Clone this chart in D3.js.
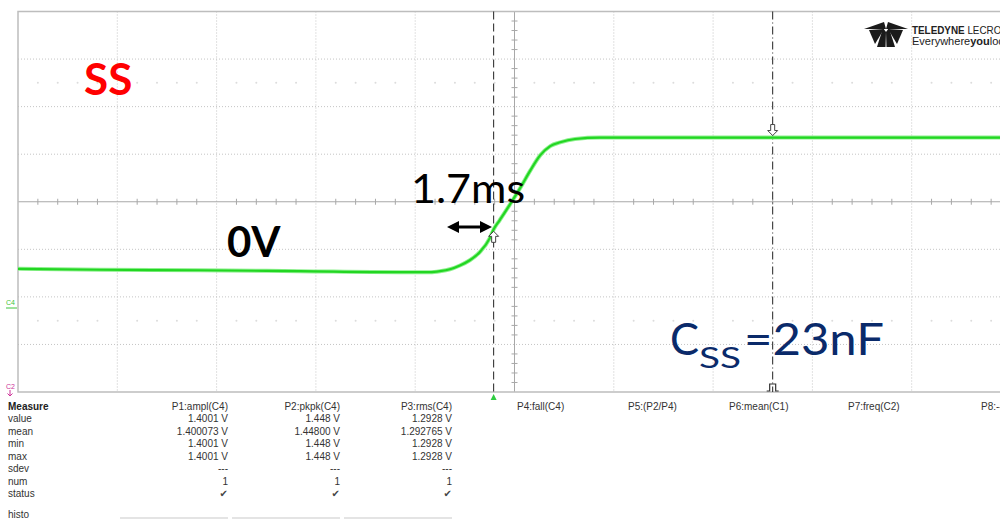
<!DOCTYPE html>
<html>
<head>
<meta charset="utf-8">
<script src="https://cdn.jsdelivr.net/npm/d3@7"></script>
<style>
  body { margin: 0; background: #fff; }
  svg { display: block; }
</style>
</head>
<body>
<script>
// trace C4, time and level in screen divisions
var traceTime  = [-5.0, -4.17, -3.17, -2.16, -1.15, -0.85, -0.75, -0.65, -0.55, -0.45, -0.35, -0.25, -0.21, -0.15, -0.05, 0.055, 0.16, 0.26, 0.36, 0.46, 0.61, 0.86, 1.87, 5.0];
var traceLevel = [-1.41, -1.43, -1.44, -1.46, -1.48, -1.48, -1.46, -1.42, -1.34, -1.23, -1.06, -0.77, -0.58, -0.39, -0.07, 0.28, 0.66, 0.98, 1.17, 1.25, 1.32, 1.35, 1.35, 1.35];

var cursorA = -0.21, cursorB = 2.6;

var rowNames  = ["value", "mean", "min", "max", "sdev", "num", "status"];
var p1Values  = ["1.4001 V", "1.400073 V", "1.4001 V", "1.4001 V", "---", "1", "\u2714"];
var p2Values  = ["1.448 V", "1.44800 V", "1.448 V", "1.448 V", "---", "1", "\u2714"];
var p3Values  = ["1.2928 V", "1.292765 V", "1.2928 V", "1.2928 V", "---", "1", "\u2714"];
var paramLabels = ["P1:ampl(C4)", "P2:pkpk(C4)", "P3:rms(C4)", "P4:fall(C4)", "P5:(P2/P4)", "P6:mean(C1)", "P7:freq(C2)", "P8:--"];

var W = 1000, H = 519;
var svg = d3.select("body").append("svg").attr("width", W).attr("height", H);

var x = d3.scaleLinear().domain([-5, 5]).range([18, 1011]);
var y = d3.scaleLinear().domain([-4, 4]).range([392, 11.5]);

var grid = svg.append("g");

// dotted grid
grid.selectAll(".vg").data(d3.range(-4, 6).filter(function(d){ return d !== 0; }))
  .enter().append("line")
  .attr("x1", function(d){ return x(d); }).attr("x2", function(d){ return x(d); })
  .attr("y1", y(4)).attr("y2", y(-4))
  .attr("stroke", "#c4c4c4").attr("stroke-dasharray", "1,2");
grid.selectAll(".hg").data([-3, -2, -1, 1, 2, 3])
  .enter().append("line")
  .attr("x1", x(-5)).attr("x2", W)
  .attr("y1", function(d){ return y(d); }).attr("y2", function(d){ return y(d); })
  .attr("stroke", "#c4c4c4").attr("stroke-dasharray", "1,2");

// faint dot rows
[2.5, -2.5].forEach(function(lv){
  grid.selectAll(null).data(d3.range(-49, 50).filter(function(d){ return d % 5 !== 0; }))
    .enter().append("circle")
    .attr("cx", function(d){ return x(d / 5); }).attr("cy", y(lv)).attr("r", 1)
    .attr("fill", "#dcdcdc");
});

// center axes with minor ticks
grid.append("line").attr("x1", x(-5)).attr("x2", W).attr("y1", y(0)).attr("y2", y(0))
  .attr("stroke", "#a8a8a8");
grid.append("line").attr("x1", x(0)).attr("x2", x(0)).attr("y1", y(4)).attr("y2", y(-4))
  .attr("stroke", "#a8a8a8");
grid.selectAll(".tx").data(d3.range(-25, 26).filter(function(d){ return d % 5 !== 0; }))
  .enter().append("line")
  .attr("x1", function(d){ return x(d / 5); }).attr("x2", function(d){ return x(d / 5); })
  .attr("y1", y(0) - 3).attr("y2", y(0) + 3).attr("stroke", "#a8a8a8");
grid.selectAll(".ty").data(d3.range(-20, 21).filter(function(d){ return d % 5 !== 0; }))
  .enter().append("line")
  .attr("y1", function(d){ return y(d / 5); }).attr("y2", function(d){ return y(d / 5); })
  .attr("x1", x(0) - 3).attr("x2", x(0) + 3).attr("stroke", "#a8a8a8");

// frame
grid.append("path")
  .attr("d", "M" + W + "," + y(4) + "H" + x(-5) + "V" + y(-4) + "H" + W)
  .attr("fill", "none").attr("stroke", "#bdbdbd").attr("stroke-width", 1.5);

// cursors
svg.append("line").attr("x1", x(cursorA)).attr("x2", x(cursorA)).attr("y1", y(4)).attr("y2", y(-4))
  .attr("stroke", "#222").attr("stroke-dasharray", "8,4");
svg.append("line").attr("x1", x(cursorB)).attr("x2", x(cursorB)).attr("y1", y(4)).attr("y2", y(-4))
  .attr("stroke", "#222").attr("stroke-dasharray", "8,3,1,3");

// trace
var line = d3.line().x(function(d, i){ return x(traceTime[i]); })
  .y(function(d){ return y(d); }).curve(d3.curveMonotoneX);
svg.append("path").datum(traceLevel).attr("d", line)
  .attr("fill", "none").attr("stroke", "#8ef08e").attr("stroke-width", 4);
svg.append("path").datum(traceLevel).attr("d", line)
  .attr("fill", "none").attr("stroke", "#22d622").attr("stroke-width", 2.2);

// cursor markers
function arrowMark(cx, cy, up) {
  var s = up ? -1 : 1;
  var p = [[cx, cy], [cx - 5, cy - s * 5], [cx - 2, cy - s * 5], [cx - 2, cy - s * 11], [cx + 2, cy - s * 11], [cx + 2, cy - s * 5], [cx + 5, cy - s * 5]];
  svg.append("polygon").attr("points", p.map(function(q){ return q.join(","); }).join(" "))
    .attr("fill", "#fff").attr("stroke", "#444").attr("stroke-width", 1);
}
arrowMark(x(cursorA), y(-0.58) + 2, true);
arrowMark(x(cursorB), y(1.35) - 2, false);
svg.append("path")
  .attr("d", "M" + (x(cursorB) - 6) + "," + (y(-4) - 1) + "h3v-7h6v7h3")
  .attr("fill", "none").attr("stroke", "#333").attr("stroke-width", 1.2);

// trigger marker
svg.append("polygon")
  .attr("points", [[x(cursorA), 394], [x(cursorA) - 3, 400], [x(cursorA) + 3, 400]].map(function(q){ return q.join(","); }).join(" "))
  .attr("fill", "#2ecc40");

// channel markers on the left
svg.append("text").attr("x", 6).attr("y", 305).text("C4")
  .attr("font-family", "Liberation Sans, Arial").attr("font-size", 7).attr("fill", "#3cc43c");
svg.append("line").attr("x1", 6).attr("x2", 17).attr("y1", 308).attr("y2", 308).attr("stroke", "#3cc43c");
svg.append("text").attr("x", 6).attr("y", 389).text("C2")
  .attr("font-family", "Liberation Sans, Arial").attr("font-size", 7).attr("fill", "#cc3399");
svg.append("path").attr("d", "M10,390v6m-2.5,-2.5l2.5,2.5l2.5,-2.5").attr("fill", "none")
  .attr("stroke", "#cc3399");

// logo
var logo = svg.append("g").attr("fill", "#1a1a1a");
logo.append("path").attr("d", "M864,29 L884,22 L886,29 Z");
logo.append("path").attr("d", "M908,29 L888,22 L886,29 Z");
logo.append("path").attr("d", "M883,28 L877,47 L885.5,47 L886,32 Z");
logo.append("path").attr("d", "M889,28 L895,47 L886.5,47 L886,32 Z");
logo.append("path").attr("d", "M869,30 L884,29 L875,44 Z");
logo.append("path").attr("d", "M903,30 L888,29 L897,44 Z");
var lt = svg.append("text").attr("x", 912).attr("y", 34)
  .attr("font-family", "Liberation Sans, Arial").attr("font-size", 10.5).attr("fill", "#222")
  .attr("textLength", 96).attr("lengthAdjust", "spacingAndGlyphs");
lt.append("tspan").attr("font-weight", "bold").text("TELEDYNE");
lt.append("tspan").text(" LECROY");
var lt2 = svg.append("text").attr("x", 912).attr("y", 45)
  .attr("font-family", "Liberation Sans, Arial").attr("font-size", 10.5).attr("fill", "#222")
  .attr("textLength", 98).attr("lengthAdjust", "spacingAndGlyphs");
lt2.append("tspan").text("Everywhere");
lt2.append("tspan").attr("font-weight", "bold").text("you");
lt2.append("tspan").text("look");

// annotations
var af = "Lato, Open Sans";
svg.append("text").attr("x", 84).attr("y", 95).text("SS")
  .attr("font-family", af).attr("font-weight", "bold").attr("font-size", 44).attr("fill", "#ff0000");
svg.append("text").attr("x", 227).attr("y", 257).text("0V")
  .attr("font-family", af).attr("font-weight", "bold").attr("font-size", 42).attr("fill", "#000");
svg.append("text").attr("x", 411).attr("y", 203).text("1.7ms")
  .attr("font-family", af).attr("font-size", 40).attr("fill", "#000")
  .attr("textLength", 114).attr("lengthAdjust", "spacingAndGlyphs");

// double arrow
var ay = 227;
svg.append("line").attr("x1", 455).attr("x2", 484).attr("y1", ay).attr("y2", ay)
  .attr("stroke", "#000").attr("stroke-width", 3);
svg.append("polygon").attr("points", "447," + ay + " 459," + (ay - 6) + " 459," + (ay + 6)).attr("fill", "#000");
svg.append("polygon").attr("points", "492," + ay + " 480," + (ay - 6) + " 480," + (ay + 6)).attr("fill", "#000");

var navy = "#0a2a6a";
svg.append("text").attr("x", 670).attr("y", 355).text("C")
  .attr("font-family", af).attr("font-size", 44).attr("fill", navy)
  .attr("textLength", 29).attr("lengthAdjust", "spacingAndGlyphs");
svg.append("text").attr("x", 699).attr("y", 368).text("SS")
  .attr("font-family", af).attr("font-size", 29).attr("fill", navy)
  .attr("textLength", 42).attr("lengthAdjust", "spacingAndGlyphs");
svg.append("text").attr("x", 744).attr("y", 355).text("=23nF")
  .attr("font-family", af).attr("font-size", 44).attr("fill", navy)
  .attr("textLength", 140).attr("lengthAdjust", "spacingAndGlyphs");

// measurement table
var tf = "Liberation Sans, Arial";
var rowY = d3.scaleLinear().domain([0, 1]).range([422, 434.5]);
svg.append("text").attr("x", 8).attr("y", 410).text("Measure")
  .attr("font-family", tf).attr("font-size", 10).attr("font-weight", "bold").attr("fill", "#222");
svg.selectAll(".rn").data(rowNames).enter().append("text")
  .attr("x", 8).attr("y", function(d, i){ return rowY(i); }).text(function(d){ return d; })
  .attr("font-family", tf).attr("font-size", 10).attr("fill", "#333");
svg.append("text").attr("x", 8).attr("y", 518).text("histo")
  .attr("font-family", tf).attr("font-size", 10).attr("fill", "#333");

var rightCols = [228, 340, 452];
[p1Values, p2Values, p3Values].forEach(function(vals, c){
  svg.append("text").attr("x", rightCols[c]).attr("y", 410).attr("text-anchor", "end")
    .text(paramLabels[c]).attr("font-family", tf).attr("font-size", 10).attr("fill", "#333");
  svg.selectAll(null).data(vals).enter().append("text")
    .attr("x", rightCols[c]).attr("y", function(d, i){ return rowY(i); })
    .attr("text-anchor", "end").text(function(d){ return d; })
    .attr("font-family", function(d){ return d === "\u2714" ? "DejaVu Sans" : tf; })
    .attr("font-size", 10)
    .attr("fill", function(d){ return d === "\u2714" ? "#444" : "#333"; });
  svg.append("line").attr("x1", rightCols[c] - 108).attr("x2", rightCols[c]).attr("y1", 518).attr("y2", 518)
    .attr("stroke", "#e4e4e4").attr("stroke-width", 2);
});
var leftCols = [517, 628, 729, 848, 981];
svg.selectAll(".pl").data(paramLabels.slice(3)).enter().append("text")
  .attr("x", function(d, i){ return leftCols[i]; }).attr("y", 410).text(function(d){ return d; })
  .attr("font-family", tf).attr("font-size", 10).attr("fill", "#333");
</script>
</body>
</html>
